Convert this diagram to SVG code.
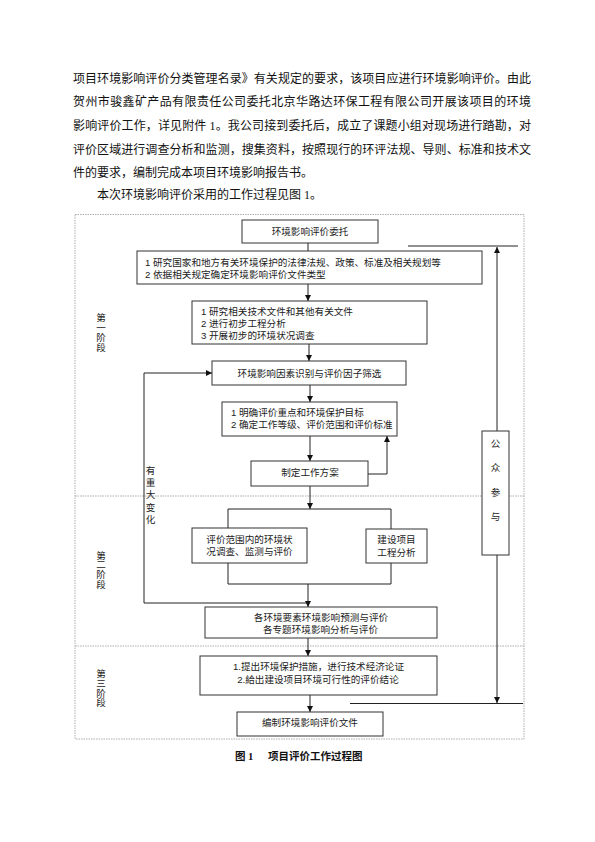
<svg xmlns="http://www.w3.org/2000/svg" width="595" height="842" viewBox="0 0 595 842">
<defs>
<style>
.body{font-family:"Liberation Serif","Noto Sans CJK SC",serif;font-size:12px;fill:#111}
.t{font-family:"Liberation Sans","Noto Sans CJK SC",sans-serif;font-size:9.6px;fill:#222}
.c{text-anchor:middle}
.box{fill:#fff;stroke:#333;stroke-width:1}
.ln{fill:none;stroke:#222;stroke-width:1}
.frame{fill:none;stroke:#999;stroke-width:0.8;stroke-dasharray:1.5 1}
.cap{font-family:"Liberation Serif","Noto Sans CJK SC",serif;font-size:10.5px;font-weight:bold;fill:#111}
</style>
<marker id="ah" viewBox="0 0 10 10" refX="10" refY="5" markerWidth="6" markerHeight="6" markerUnits="userSpaceOnUse" orient="auto">
<path d="M0,0 L10,5 L0,10 z" fill="#111"/>
</marker>
</defs>
<rect width="595" height="842" fill="#fff"/>

<g id="paragraph">
<text class="body" x="73" y="82.6" textLength="458" lengthAdjust="spacing">项目环境影响评价分类管理名录》有关规定的要求，该项目应进行环境影响评价。由此</text>
<text class="body" x="73" y="106.2" textLength="458" lengthAdjust="spacing">贺州市骏鑫矿产品有限责任公司委托北京华路达环保工程有限公司开展该项目的环境</text>
<text class="body" x="73" y="130.2" textLength="458" lengthAdjust="spacing">影响评价工作，详见附件 1。我公司接到委托后，成立了课题小组对现场进行踏勘，对</text>
<text class="body" x="73" y="154.2" textLength="458" lengthAdjust="spacing">评价区域进行调查分析和监测，搜集资料，按照现行的环评法规、导则、标准和技术文</text>
<text class="body" x="73" y="177.2">件的要求，编制完成本项目环境影响报告书。</text>
<text class="body" x="97" y="198.6">本次环境影响评价采用的工作过程见图 1。</text>
</g>

<g id="frame">
<rect class="frame" x="75" y="214.5" width="449" height="524.5"/>
<line class="frame" x1="75" y1="496" x2="524" y2="496"/>
<line class="frame" x1="75" y1="646" x2="524" y2="646"/>
</g>

<g id="stage-labels">
<g id="stage1">
<text class="t c" x="101" y="320.6">第</text>
<text class="t c" x="101" y="330.6">一</text>
<text class="t c" x="101" y="340.6">阶</text>
<text class="t c" x="101" y="350.6">段</text>
</g>
<g id="stage2">
<text class="t c" x="101" y="558.6">第</text>
<text class="t c" x="101" y="568">二</text>
<text class="t c" x="101" y="577.6">阶</text>
<text class="t c" x="101" y="587.6">段</text>
</g>
<g id="stage3">
<text class="t c" x="101" y="676.6">第</text>
<text class="t c" x="101" y="686.6">三</text>
<text class="t c" x="101" y="696.6">阶</text>
<text class="t c" x="101" y="706">段</text>
</g>
</g>

<g id="connectors">
<line class="ln" x1="308" y1="243" x2="308" y2="251"/>
<line class="ln" x1="308" y1="284" x2="308" y2="301" marker-end="url(#ah)"/>
<line class="ln" x1="309" y1="344" x2="309" y2="361" marker-end="url(#ah)"/>
<line class="ln" x1="310" y1="385" x2="310" y2="402" marker-end="url(#ah)"/>
<line class="ln" x1="310" y1="436" x2="310" y2="461" marker-end="url(#ah)"/>
<polyline class="ln" points="368,474 387,474 387,436" marker-end="url(#ah)"/>
<line class="ln" x1="310" y1="486" x2="310" y2="509" marker-end="url(#ah)"/>
<polyline class="ln" points="228,528 228,509 391,509 391,529"/>
<polyline class="ln" points="228,563 228,584 391,584 391,563"/>
<line class="ln" x1="308" y1="584" x2="308" y2="607" marker-end="url(#ah)"/>
<polyline class="ln" points="308,603 144,603 144,373 212,373" marker-end="url(#ah)"/>
<line class="ln" x1="308" y1="638" x2="308" y2="656" marker-end="url(#ah)"/>
<line class="ln" x1="310" y1="695" x2="310" y2="712" marker-end="url(#ah)"/>
<line class="ln" x1="408" y1="246" x2="518" y2="246"/>
<line class="ln" x1="497" y1="431" x2="497" y2="247" marker-end="url(#ah)"/>
<line class="ln" x1="497" y1="555" x2="497" y2="703" marker-end="url(#ah)"/>
<line class="ln" x1="350" y1="703.5" x2="523" y2="703.5"/>
</g>

<g id="label-change">
<text class="t c" x="150.5" y="473.6">有</text>
<text class="t c" x="150.5" y="485.9">重</text>
<text class="t c" x="150.5" y="498.2">大</text>
<text class="t c" x="150.5" y="510.6">变</text>
<text class="t c" x="150.5" y="522.9">化</text>
</g>

<g id="n1">
<rect class="box" x="242" y="220" width="136" height="23"/>
<text class="t c" x="310" y="235">环境影响评价委托</text>
</g>
<g id="n2">
<rect class="box" x="137" y="251" width="345" height="33"/>
<text class="t" x="145" y="266">1 研究国家和地方有关环境保护的法律法规、政策、标准及相关规划等</text>
<text class="t" x="145" y="278">2 依据相关规定确定环境影响评价文件类型</text>
</g>
<g id="n3">
<rect class="box" x="192" y="301" width="235" height="43"/>
<text class="t" x="201" y="315.3">1 研究相关技术文件和其他有关文件</text>
<text class="t" x="201" y="327">2 进行初步工程分析</text>
<text class="t" x="201" y="339.3">3 开展初步的环境状况调查</text>
</g>
<g id="n4">
<rect class="box" x="212" y="361" width="194" height="24"/>
<text class="t c" x="309.5" y="376.6">环境影响因素识别与评价因子筛选</text>
</g>
<g id="n5">
<rect class="box" x="222" y="402" width="175" height="34"/>
<text class="t" x="231" y="415.6">1 明确评价重点和环境保护目标</text>
<text class="t" x="231" y="427.6">2 确定工作等级、评价范围和评价标准</text>
</g>
<g id="n6">
<rect class="box" x="251" y="461" width="117" height="25"/>
<text class="t c" x="310" y="475.6">制定工作方案</text>
</g>
<g id="n7a">
<rect class="box" x="192" y="528" width="115" height="35"/>
<text class="t c" x="249.5" y="542.6">评价范围内的环境状</text>
<text class="t c" x="249.5" y="554.6">况调查、监测与评价</text>
</g>
<g id="n7b">
<rect class="box" x="366" y="529" width="61" height="34"/>
<text class="t c" x="396.5" y="542.6">建设项目</text>
<text class="t c" x="396.5" y="555.6">工程分析</text>
</g>
<g id="n8">
<rect class="box" x="205" y="607" width="232" height="31"/>
<text class="t c" x="321" y="620.6">各环境要素环境影响预测与评价</text>
<text class="t c" x="320.5" y="632.6">各专题环境影响分析与评价</text>
</g>
<g id="n9">
<rect class="box" x="200" y="656" width="237" height="39"/>
<text class="t c" x="318.5" y="670.3">1.提出环境保护措施，进行技术经济论证</text>
<text class="t c" x="318" y="683">2.給出建设项目环境可行性的评价结论</text>
</g>
<g id="n10">
<rect class="box" x="237" y="712" width="146" height="24"/>
<text class="t c" x="310" y="726.3">编制环境影响评价文件</text>
</g>
<g id="n-public">
<rect class="box" x="482" y="431" width="27" height="124"/>
<text class="t c" x="495.5" y="446.6">公</text>
<text class="t c" x="495.5" y="470.6">众</text>
<text class="t c" x="495.5" y="495.6">参</text>
<text class="t c" x="495.5" y="519.6">与</text>
</g>

<g id="caption">
<text class="cap" x="235" y="759.7">图 1</text>
<text class="cap" x="268" y="759.7">项目评价工作过程图</text>
</g>
</svg>
